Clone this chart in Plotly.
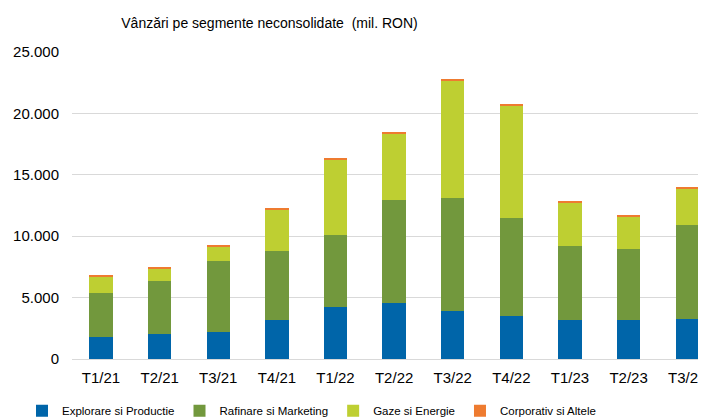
import plotly.graph_objects as go

categories = ["T1/21", "T2/21", "T3/21", "T4/21", "T1/22", "T2/22", "T3/22", "T4/22", "T1/23", "T2/23", "T3/23"]
explorare = [1820, 2060, 2200, 3180, 4200, 4580, 3930, 3530, 3150, 3150, 3230]
rafinare = [3580, 4320, 5750, 5610, 5870, 8340, 9170, 7970, 6020, 5830, 7680]
gaze = [1330, 970, 1220, 3410, 6180, 5430, 9590, 9150, 3580, 2610, 2980]
corporativ = [80, 80, 80, 70, 80, 80, 80, 110, 70, 80, 80]
y_ticks = [0, 5000, 10000, 15000, 20000, 25000]

series = [
    ("Explorare si Productie", explorare, "#0065A9"),
    ("Rafinare si Marketing", rafinare, "#72983D"),
    ("Gaze si Energie", gaze, "#BECF32"),
    ("Corporativ si Altele", corporativ, "#EE7B30"),
]

regular = "Liberation Sans, Arial, sans-serif"

# page body adds an 8px offset, so the figure is sized to the remaining window
W, H = 698, 410
L, T, B = 64, 44, 59
plot_w = W - L
plot_h = H - T - B

fig = go.Figure()
for name, vals, color in series:
    fig.add_trace(go.Bar(
        x=categories, y=vals, name=name,
        marker=dict(color=color, line=dict(width=0)),
        width=0.40,
    ))

fig.update_layout(
    barmode="stack",
    width=W, height=H,
    paper_bgcolor="white", plot_bgcolor="white",
    margin=dict(l=L, r=0, t=T, b=B, autoexpand=False),
    separators=",.",
    title=dict(
        text="Vânzări pe segmente neconsolidate  (mil. RON)",
        x=261.5 / W, xref="container", xanchor="center",
        y=1 - 15 / H, yref="container", yanchor="middle",
        font=dict(family=regular, size=14, color="#000000"),
    ),
    showlegend=True,
    legend=dict(
        orientation="h",
        x=(14 - L) / plot_w, xanchor="left",
        y=-51.7 / plot_h, yanchor="middle",
        font=dict(family=regular, size=11.5, color="#000000"),
        bgcolor="rgba(0,0,0,0)",
        traceorder="normal",
        itemclick=False,
    ),
    font=dict(family=regular, color="#000000"),
)

fig.update_xaxes(
    type="category",
    range=[-0.495, 10.32],
    showgrid=False, showline=False, zeroline=False,
    ticks="",
    tickfont=dict(family=regular, size=15, color="#000000"),
    ticklabelstandoff=8,
    ticklabeloverflow="allow",
)
fig.update_yaxes(
    range=[0, 25000],
    tickvals=y_ticks,
    tickformat=",d",
    showgrid=True, gridcolor="#D9D9D9", gridwidth=1,
    zeroline=True, zerolinecolor="#D9D9D9", zerolinewidth=1,
    showline=False, ticks="",
    tickfont=dict(family=regular, size=15, color="#000000"),
    ticklabelstandoff=12,
)

fig.write_html("out.html")
